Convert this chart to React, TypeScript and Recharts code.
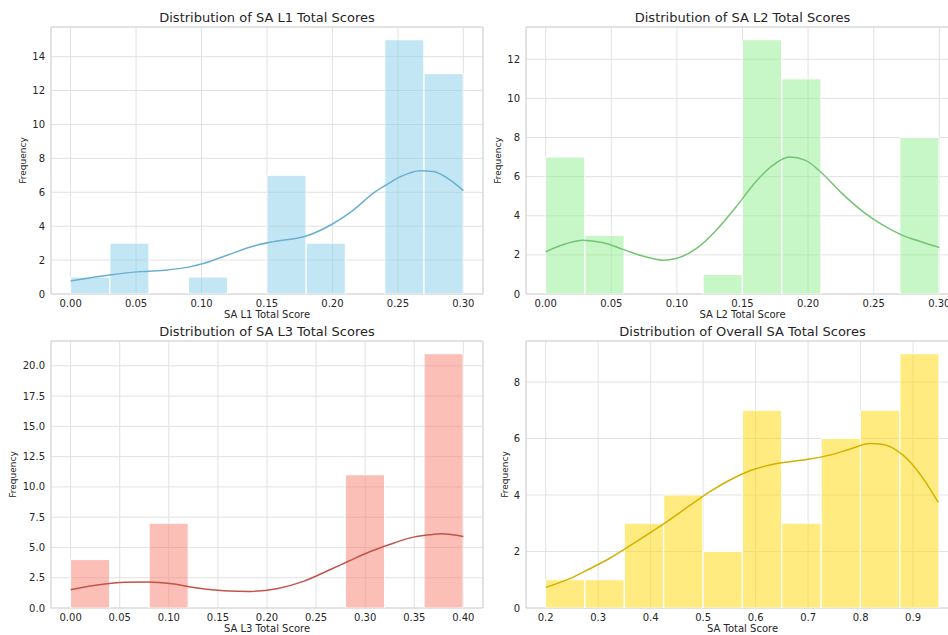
import {
  ComposedChart,
  Bar,
  Line,
  XAxis,
  YAxis,
  CartesianGrid,
  ReferenceArea,
} from "recharts";

// ---- SA L1 ----
const L1_CENTERS = [0.015, 0.045, 0.075, 0.105, 0.135, 0.165, 0.195, 0.225, 0.255, 0.285];
const L1_COUNTS = [1, 3, 0, 1, 0, 7, 3, 0, 15, 13];
const L1_KDE_X = [0, 0.03, 0.053, 0.074, 0.089, 0.102, 0.12, 0.14, 0.155, 0.18, 0.2, 0.216, 0.231, 0.241, 0.252, 0.267, 0.277, 0.29, 0.3];
const L1_KDE_Y = [0.77, 1.12, 1.32, 1.42, 1.57, 1.81, 2.3, 2.83, 3.09, 3.42, 4.13, 4.95, 5.94, 6.43, 6.92, 7.27, 7.22, 6.72, 6.1];
const L1_XTICKS = [0, 0.05, 0.1, 0.15, 0.2, 0.25, 0.3];
const L1_YTICKS = [0, 2, 4, 6, 8, 10, 12, 14];

// ---- SA L2 ----
const L2_CENTERS = [0.015, 0.045, 0.075, 0.105, 0.135, 0.165, 0.195, 0.225, 0.255, 0.285];
const L2_COUNTS = [7, 3, 0, 0, 1, 13, 11, 0, 0, 8];
const L2_KDE_X = [0, 0.016, 0.028, 0.044, 0.059, 0.074, 0.089, 0.0995, 0.115, 0.13, 0.145, 0.16, 0.173, 0.186, 0.198, 0.211, 0.226, 0.242, 0.257, 0.272, 0.285, 0.3];
const L2_KDE_Y = [2.16, 2.58, 2.75, 2.62, 2.28, 1.94, 1.73, 1.82, 2.33, 3.26, 4.45, 5.73, 6.58, 7.0, 6.83, 6.15, 5.13, 4.2, 3.52, 3.0, 2.7, 2.38];
const L2_XTICKS = [0, 0.05, 0.1, 0.15, 0.2, 0.25, 0.3];
const L2_YTICKS = [0, 2, 4, 6, 8, 10, 12];

// ---- SA L3 ----
const L3_CENTERS = [0.02, 0.06, 0.1, 0.14, 0.18, 0.22, 0.26, 0.3, 0.34, 0.38];
const L3_COUNTS = [4, 0, 7, 0, 0, 0, 0, 11, 0, 21];
const L3_KDE_X = [0, 0.029, 0.055, 0.079, 0.103, 0.129, 0.156, 0.183, 0.21, 0.237, 0.264, 0.284, 0.304, 0.324, 0.345, 0.365, 0.378, 0.4];
const L3_KDE_Y = [1.51, 1.92, 2.12, 2.14, 2.0, 1.65, 1.43, 1.37, 1.59, 2.2, 3.16, 3.9, 4.62, 5.22, 5.77, 6.04, 6.13, 5.9];
const L3_XTICKS = [0, 0.05, 0.1, 0.15, 0.2, 0.25, 0.3, 0.35, 0.4];
const L3_YTICKS = [0, 2.5, 5, 7.5, 10, 12.5, 15, 17.5, 20];

// ---- Overall ----
const ALL_CENTERS = [0.2375, 0.3125, 0.3875, 0.4625, 0.5375, 0.6125, 0.6875, 0.7625, 0.8375, 0.9125];
const ALL_COUNTS = [1, 1, 3, 4, 2, 7, 3, 6, 7, 9];
const ALL_KDE_X = [0.2, 0.246, 0.284, 0.322, 0.36, 0.398, 0.436, 0.474, 0.513, 0.551, 0.589, 0.627, 0.665, 0.703, 0.741, 0.779, 0.818, 0.843, 0.868, 0.894, 0.919, 0.948];
const ALL_KDE_Y = [0.73, 1.04, 1.39, 1.76, 2.2, 2.65, 3.12, 3.62, 4.12, 4.53, 4.86, 5.06, 5.18, 5.27, 5.41, 5.62, 5.82, 5.79, 5.59, 5.18, 4.59, 3.74];
const ALL_XTICKS = [0.2, 0.3, 0.4, 0.5, 0.6, 0.7, 0.8, 0.9];
const ALL_YTICKS = [0, 2, 4, 6, 8];

const FONT = '"DejaVu Sans", sans-serif';
const TEXT = "#262626";

interface PanelProps {
  title: string;
  xLabel: string;
  centers: number[];
  counts: number[];
  kdeX: number[];
  kdeY: number[];
  xTicks: number[];
  yTicks: number[];
  xDomain: [number, number];
  yMax: number;
  xDigits: number;
  yDigits: number;
  fill: string;
  line: string;
  left: number;
  top: number;
  width: number;
  marginRight: number;
  yLabelOffset: number;
}

function Panel(p: PanelProps) {
  const bins = p.centers.map((x, i) => ({ x, count: p.counts[i] }));
  const kde = p.kdeX.map((x, i) => ({ x, y: p.kdeY[i] }));
  const plotLeft = 52;
  const plotWidth = p.width - plotLeft - p.marginRight;

  return (
    <div style={{ position: "absolute", left: p.left, top: p.top, width: p.width, height: 318 }}>
      <ComposedChart
        width={p.width}
        height={318}
        data={bins}
        margin={{ top: 27, right: p.marginRight, bottom: 0, left: 0 }}
        barCategoryGap={0}
        barGap={0}
      >
        <CartesianGrid stroke="#e2e2e2" strokeWidth={1} />
        <XAxis
          type="number"
          dataKey="x"
          domain={p.xDomain}
          ticks={p.xTicks}
          allowDataOverflow
          height={24}
          tickLine={false}
          axisLine={false}
          tickSize={0}
          tickMargin={6}
          tick={{ fontSize: 10, fill: TEXT, fontFamily: FONT }}
          tickFormatter={(v: number) => v.toFixed(p.xDigits)}
          label={{
            value: p.xLabel,
            position: "insideBottom",
            offset: 0,
            style: { fontSize: 10, fill: TEXT, fontFamily: FONT },
          }}
        />
        <XAxis
          xAxisId="kde"
          type="number"
          dataKey="x"
          domain={p.xDomain}
          allowDataOverflow
          hide
        />
        <YAxis
          type="number"
          domain={[0, p.yMax]}
          ticks={p.yTicks}
          allowDataOverflow
          width={plotLeft}
          tickLine={false}
          axisLine={false}
          tickSize={0}
          tickMargin={6}
          tick={{ fontSize: 10, fill: TEXT, fontFamily: FONT }}
          tickFormatter={(v: number) => v.toFixed(p.yDigits)}
          label={{
            value: "Frequency",
            angle: -90,
            position: "insideLeft",
            offset: p.yLabelOffset,
            style: { textAnchor: "middle", fontSize: 9, fill: TEXT, fontFamily: FONT },
          }}
        />
        <Bar
          dataKey="count"
          fill={p.fill}
          fillOpacity={0.5}
          stroke="#ffffff"
          strokeWidth={1}
          isAnimationActive={false}
        />
        <Line
          xAxisId="kde"
          data={kde}
          dataKey="y"
          type="monotone"
          stroke={p.line}
          strokeWidth={1.5}
          dot={false}
          activeDot={false}
          isAnimationActive={false}
        />
        <ReferenceArea
          x1={p.xDomain[0]}
          x2={p.xDomain[1]}
          y1={0}
          y2={p.yMax}
          fill="none"
          stroke="#d4d4d4"
          strokeWidth={1}
        />
      </ComposedChart>
      <div
        style={{
          position: "absolute",
          left: plotLeft,
          top: 10,
          width: plotWidth,
          height: 16,
          lineHeight: "16px",
          textAlign: "center",
          fontFamily: FONT,
          fontSize: 13,
          color: TEXT,
          whiteSpace: "nowrap",
        }}
      >
        {p.title}
      </div>
    </div>
  );
}

export default function App() {
  return (
    <div
      style={{
        position: "absolute",
        left: 0,
        top: 0,
        width: 948,
        height: 635,
        overflow: "hidden",
        background: "#ffffff",
      }}
    >
      <Panel
        title="Distribution of SA L1 Total Scores"
        xLabel="SA L1 Total Score"
        centers={L1_CENTERS}
        counts={L1_COUNTS}
        kdeX={L1_KDE_X}
        kdeY={L1_KDE_Y}
        xTicks={L1_XTICKS}
        yTicks={L1_YTICKS}
        xDomain={[-0.015, 0.315]}
        yMax={15.75}
        xDigits={2}
        yDigits={0}
        fill="#87ceeb"
        line="#6aafd0"
        left={-1}
        top={0}
        width={490}
        marginRight={6}
        yLabelOffset={24}
      />
      <Panel
        title="Distribution of SA L2 Total Scores"
        xLabel="SA L2 Total Score"
        centers={L2_CENTERS}
        counts={L2_COUNTS}
        kdeX={L2_KDE_X}
        kdeY={L2_KDE_Y}
        xTicks={L2_XTICKS}
        yTicks={L2_YTICKS}
        xDomain={[-0.015, 0.315]}
        yMax={13.65}
        xDigits={2}
        yDigits={0}
        fill="#90ee90"
        line="#74c474"
        left={474}
        top={0}
        width={485}
        marginRight={0}
        yLabelOffset={24}
      />
      <Panel
        title="Distribution of SA L3 Total Scores"
        xLabel="SA L3 Total Score"
        centers={L3_CENTERS}
        counts={L3_COUNTS}
        kdeX={L3_KDE_X}
        kdeY={L3_KDE_Y}
        xTicks={L3_XTICKS}
        yTicks={L3_YTICKS}
        xDomain={[-0.02, 0.42]}
        yMax={22.05}
        xDigits={2}
        yDigits={1}
        fill="#fa8072"
        line="#c0544a"
        left={-1}
        top={314}
        width={490}
        marginRight={6}
        yLabelOffset={14}
      />
      <Panel
        title="Distribution of Overall SA Total Scores"
        xLabel="SA Total Score"
        centers={ALL_CENTERS}
        counts={ALL_COUNTS}
        kdeX={ALL_KDE_X}
        kdeY={ALL_KDE_Y}
        xTicks={ALL_XTICKS}
        yTicks={ALL_YTICKS}
        xDomain={[0.1625, 0.9875]}
        yMax={9.45}
        xDigits={1}
        yDigits={0}
        fill="#ffd700"
        line="#d4b000"
        left={474}
        top={314}
        width={485}
        marginRight={0}
        yLabelOffset={31}
      />
    </div>
  );
}
